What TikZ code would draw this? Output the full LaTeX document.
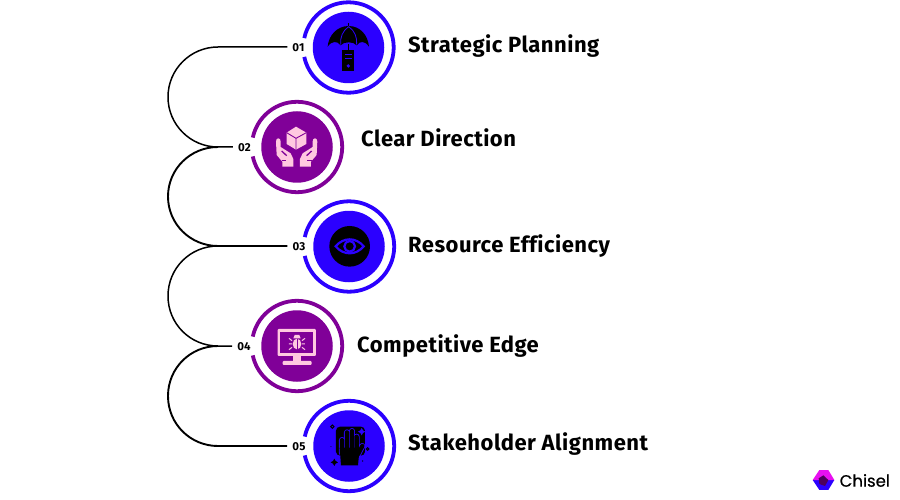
\documentclass[tikz,border=0pt]{standalone}
\usepackage{fontspec}
\setmainfont{Fira Sans}[LetterSpace=2.2,Ligatures=NoCommon]
\newfontfamily\logofont{Poppins}[FakeBold=0.5]
\usetikzlibrary{calc}
\definecolor{blu}{HTML}{2B00FF}
\definecolor{pur}{HTML}{800098}
\definecolor{pnk}{HTML}{FFC8E0}
\definecolor{mag}{HTML}{E810F0}
\tikzset{
  title/.style={anchor=base west,inner sep=0pt,font=\fontsize{22}{24}\selectfont\bfseries,text=black},
  num/.style={inner sep=0pt,font=\fontsize{11.5}{13}\selectfont\bfseries,text=black},
  disc/.style={circle,inner sep=0pt,minimum size=71.5pt,fill=#1},
  link/.style={draw=black,line width=1.5pt},
  ring/.style={line width=3.8pt,draw=#1},
  zoomgrid/.style={x=0.3333pt,y=-0.3333pt},
}
\newcommand{\ringarc}[3]{% center x, y, colour
  \draw[ring=#3] ({#1+45.2*cos(168)},{#2-45.2*sin(168)}) arc[start angle=168,end angle=-168,radius=45.2pt];
}
\newcommand{\handshape}{%
  \fill[pnk] (138,140) .. controls (138,133) and (141,130) .. (145,130) .. controls (149,130) and (152,133) .. (152,140)
    -- (152,156) -- (182,175) -- (190,192) -- (190,215) -- (157,215) -- (157,200) -- (140,180) -- cycle;
  \draw[pur,line width=1.3pt] (155,168) -- (170,182);
  \draw[pur,line width=1.1pt] (155,197) -- (168,197);
}
\begin{document}
\begin{tikzpicture}[x=1pt,y=-1pt]
\useasboundingbox (0,0) rectangle (900,500);
\fill[white] (0,0) rectangle (900,500);

% discs and numbers
\node[disc=blu] (d1) at (348.5,47.5) {};
\node[disc=pur] (d2) at (297,147) {};
\node[disc=blu] (d3) at (349,246.5) {};
\node[disc=pur] (d4) at (297,346) {};
\node[disc=blu] (d5) at (349,446) {};
\ringarc{348.5}{47.5}{blu}
\ringarc{297}{147}{pur}
\ringarc{349}{246.5}{blu}
\ringarc{297}{346}{pur}
\ringarc{349}{446}{blu}
\node[num] (n1) at (298.5,47.5) {01};
\node[num] (n2) at (244.5,147.5) {02};
\node[num] (n3) at (299,247) {03};
\node[num] (n4) at (244,346.5) {04};
\node[num] (n5) at (299,446.5) {05};

% connectors
\coordinate (c1) at (218,47);
\coordinate (c2) at (218,147);
\coordinate (c3) at (218,246);
\coordinate (c4) at (218,346);
\coordinate (c5) at (218,446);
\draw[link] ([xshift=-5pt]n1.west |- c1) -- (c1) .. controls (190.4,47) and (168,69.4) .. (168,97) .. controls (168,124.6) and (190.4,147) .. (c2) -- ([xshift=-5pt]n2.west |- c2);
\draw[link,line width=1.9pt] ([xshift=-5pt]n3.west |- c3) -- (c3) .. controls (190.4,246) and (168,224) .. (168,196.5) .. controls (168,169) and (190.4,147) .. (c2);
\draw[link] (c3) .. controls (190.4,246) and (168,268) .. (168,296) .. controls (168,324) and (190.4,346) .. (c4) -- ([xshift=-5pt]n4.west |- c4);
\draw[link,line width=1.9pt] (c4) .. controls (190.4,346) and (168,368) .. (168,396) .. controls (168,424) and (190.4,446) .. (c5) -- ([xshift=-5pt]n5.west |- c5);

% titles
\node[title] (t1) at (408,53) {Strategic Planning};
\node[title] (t2) at (361,147) {Clear Direction};
\node[title] (t3) at (408,252) {Resource Efficiency};
\node[title] (t4) at (357,352) {Competitive Edge};
\node[title] (t5) at (408,450) {Stakeholder Alignment};

% icon 1: umbrella and server
\begin{scope}[shift={(280,0)},zoomgrid]
  \fill[black] (204,70) rectangle (208,80);
  \fill[black] (143,140) .. controls (146,105) and (172,78) .. (206,78) .. controls (240,78) and (264,105) .. (267,140)
    .. controls (255,122) and (240,122) .. (230,136) .. controls (222,124) and (190,124) .. (182,136) .. controls (172,122) and (155,122) .. (143,140) -- cycle;
  \draw[blu,line width=0.8pt] (206,80) .. controls (188,92) and (180,112) .. (182,134);
  \draw[blu,line width=0.8pt] (206,80) .. controls (224,92) and (232,112) .. (230,134);
  \fill[black] (203,132) rectangle (208,150);
  \fill[black] (187,150) rectangle (223,213);
  \fill[blu] (195,161) rectangle (216,164.5);
  \fill[blu] (195,173) rectangle (216,176.5);
  \fill[blu] (205,198) circle (5.5);
\end{scope}

% icon 2: hands and cube
\begin{scope}[shift={(230,95)},zoomgrid]
  \fill[pnk] (198,95) -- (229,113) -- (229,147) -- (198,164) -- (170,147) -- (170,113) -- cycle;
  \draw[pur,line width=0.9pt] (170,113) -- (198,130) -- (229,113) (198,130) -- (198,164);
  \handshape
\end{scope}
\begin{scope}[shift={(363.3,95)},x=-0.3333pt,y=-0.3333pt]
  \handshape
\end{scope}

% icon 3: eye
\begin{scope}[shift={(280,195)},zoomgrid]
  \fill[black] (209,154) circle (61);
  \draw[blu,line width=2.2pt] (167,154) .. controls (190,126) and (228,126) .. (251,154) .. controls (228,182) and (190,182) .. (167,154) -- cycle;
  \draw[blu,line width=2.2pt] (209,154) circle (16);
\end{scope}

% icon 4: monitor with bug
\begin{scope}[shift={(230,295)},zoomgrid]
  \fill[pnk,rounded corners=1pt] (143,102) rectangle (258,183);
  \fill[pur] (151,110) rectangle (250,174);
  \fill[pnk] (190,183) rectangle (212,200);
  \fill[pnk,rounded corners=1pt] (158,198) rectangle (245,210);
  \fill[pnk] (201,147) ellipse (13 and 16);
  \fill[pnk] (190,130) -- (212,130) -- (208,120) -- (194,120) -- cycle;
  \draw[pur,line width=0.8pt] (201,132) -- (201,164);
  \draw[pnk,line width=1pt] (186,137) -- (177,130) (186,147) -- (177,147) (186,157) -- (177,164)
    (216,137) -- (225,130) (216,147) -- (225,147) (216,157) -- (225,164);
\end{scope}

% icon 5: wiping hand
\begin{scope}[shift={(280,395)},zoomgrid]
  \fill[black,rounded corners=4pt] (168,95) rectangle (255,182);
  \begin{scope}[line cap=round]
    \draw[blu,line width=6pt] (186,135) -- (186,175) (201,112) -- (201,175) (216,108) -- (216,175) (230,125) -- (230,175) (234,178) -- (247,153);
    \draw[black,line width=4.2pt] (186,135) -- (186,175) (201,112) -- (201,175) (216,108) -- (216,175) (230,125) -- (230,175) (234,178) -- (247,153);
  \end{scope}
  \fill[black] (179,158) -- (237,158) -- (237,180) -- (234,211) -- (183,211) -- cycle;
  \fill[blu] (245,99) -- (249,106) -- (256,110) -- (249,114) -- (245,121) -- (241,114) -- (234,110) -- (241,106) -- cycle;
  \fill[black] (163,191) -- (167,198) -- (174,202) -- (167,206) -- (163,213) -- (159,206) -- (152,202) -- (159,198) -- cycle;
  \draw[black,line width=1pt] (157,95) circle (5);
  \draw[black,line width=1pt] (263,162) circle (4);
  \fill[black] (248,198) circle (2);
  \fill[black] (153,155) circle (1.5);
\end{scope}

% logo
\begin{scope}[shift={(800,460)},zoomgrid]
  \fill[blu] (38,60) -- (58,90) -- (85,90) -- (103,60) -- cycle;
  \fill[mag] (38,60) -- (58,30) -- (85,30) -- (103,60) -- cycle;
  \fill[pur!60!black] (70,46) -- (85,60) -- (75,78) -- (58,72) -- (56,55) -- cycle;
\end{scope}
\node[anchor=west,inner sep=0pt,font=\logofont\fontsize{16.5}{20}\selectfont,text=black] (logo) at (839.5,480.5) {Chisel};
\end{tikzpicture}
\end{document}
